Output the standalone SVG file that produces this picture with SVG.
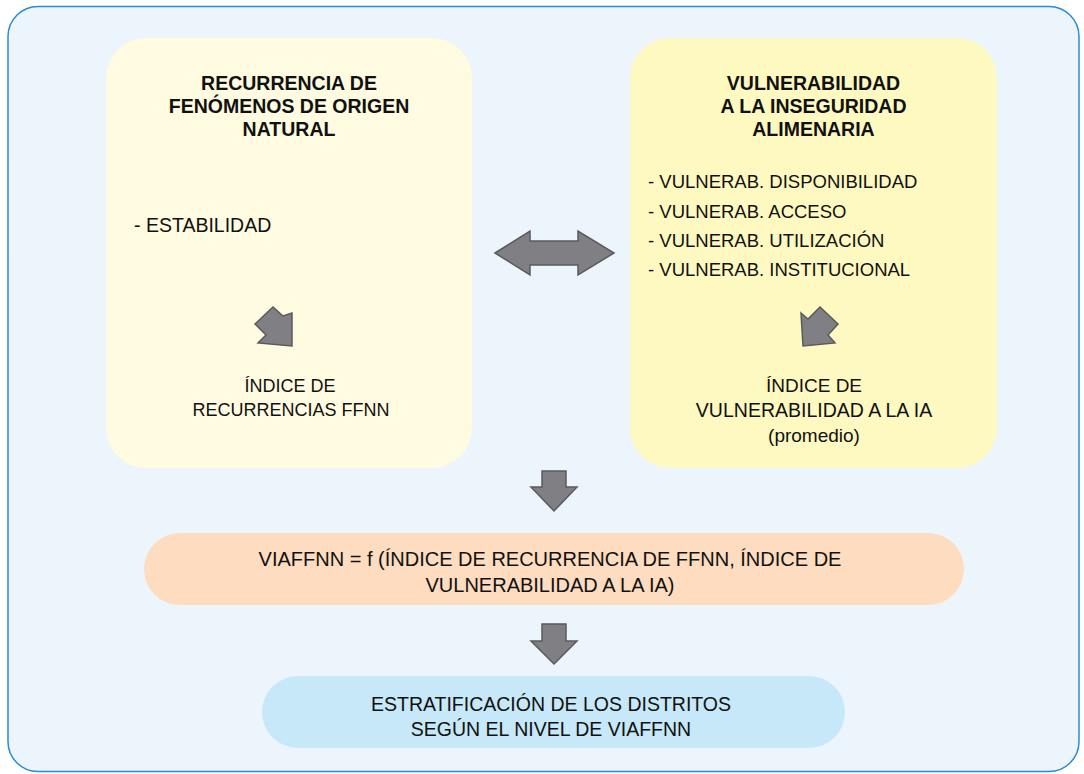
<svg xmlns="http://www.w3.org/2000/svg" width="1084" height="774" viewBox="0 0 1084 774">
<style>
text{font-family:"Liberation Sans",Arial,sans-serif;fill:#111;}
.t{font-size:19.5px;font-weight:bold;text-anchor:middle;}
.b{font-size:18.5px;}
.c{font-size:18px;text-anchor:middle;}
.arr{fill:#808084;stroke:#5a5a5e;stroke-width:1.5;stroke-linejoin:miter;}
</style>
<rect x="8" y="6.5" width="1071" height="765" rx="30" fill="#edf5fc" stroke="#2b8bd3" stroke-width="1.5"/>
<g id="node-recurrencia">
<rect x="106" y="38" width="366" height="430" rx="40" fill="#fefbe0"/>
<text class="t" x="289" y="90">RECURRENCIA DE</text>
<text class="t" x="289" y="113">FENÓMENOS DE ORIGEN</text>
<text class="t" x="289" y="136">NATURAL</text>
<text class="b" x="134" y="232" style="font-size:19.5px">- ESTABILIDAD</text>
<text class="c" x="290" y="392">ÍNDICE DE</text>
<text class="c" x="291" y="416">RECURRENCIAS FFNN</text>
</g>
<g id="node-vulnerabilidad">
<rect x="630" y="38" width="367" height="430" rx="40" fill="#fef9c0"/>
<text class="t" x="813.5" y="89.5">VULNERABILIDAD</text>
<text class="t" x="813.5" y="113">A LA INSEGURIDAD</text>
<text class="t" x="813.5" y="136">ALIMENARIA</text>
<text class="b" x="648" y="188">- VULNERAB. DISPONIBILIDAD</text>
<text class="b" x="648" y="217.5">- VULNERAB. ACCESO</text>
<text class="b" x="648" y="247">- VULNERAB. UTILIZACIÓN</text>
<text class="b" x="648" y="276">- VULNERAB. INSTITUCIONAL</text>
<text class="c" x="814" y="392" style="font-size:19px">ÍNDICE DE</text>
<text class="c" x="814" y="417" style="font-size:19.5px">VULNERABILIDAD A LA IA</text>
<text class="c" x="814" y="442" style="font-size:19px">(promedio)</text>
</g>
<g id="node-viaffnn">
<rect x="144" y="533" width="820" height="72" rx="36" fill="#fddcbf"/>
<text class="c" x="550" y="566" style="font-size:20px">VIAFFNN = f (ÍNDICE DE RECURRENCIA DE FFNN, ÍNDICE DE</text>
<text class="c" x="550" y="592" style="font-size:20px">VULNERABILIDAD A LA IA)</text>
</g>
<g id="node-estratificacion">
<rect x="262" y="676" width="583" height="72" rx="36" fill="#c6e8f8"/>
<text class="c" x="551" y="711" style="font-size:19.5px">ESTRATIFICACIÓN DE LOS DISTRITOS</text>
<text class="c" x="551" y="736" style="font-size:19.5px">SEGÚN EL NIVEL DE VIAFFNN</text>
</g>
<g id="connectors">
<polygon class="arr" points="495,253 530,231 530,241 578,241 578,231 614,253 578,275 578,265 530,265 530,275"/>
<polygon class="arr" points="273,307 283,316 292,313 292,346 258,343 266,335 255,324"/>
<polygon class="arr" points="801,313 808,319 820,307 838,324 828,335 835,343 803,346"/>
<polygon class="arr" points="542,471 566,471 566,487 577,487 554,511 531,487 542,487"/>
<polygon class="arr" points="542,624 566,624 566,641 577,641 554,664 531,641 542,641"/>
</g>
</svg>
